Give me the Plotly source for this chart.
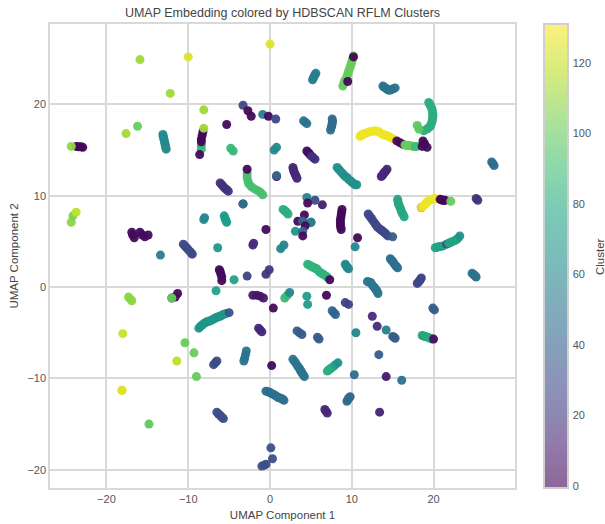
import plotly.graph_objects as go

umap_1 = [
 -15.9, -10.0, 0.0, -12.2, -8.1, -16.2, -17.6,
 -23.7, -23.4, -23.1, -22.9, -24.3,
 -13.1, -13.05, -13.0, -12.95, -12.9, -12.85, -12.8, -12.75, -12.7,
 -8.4, -8.4, -8.2, -8.3, -8.4, -8.4, -8.6, -8.1, -5.3,
 -4.8, -4.5,
 -2.8, -2.8, -2.7, -2.6, -2.3, -2.0, -1.6, -1.2, -0.9, -2.8,
 -6.1, -5.9, -5.7, -5.5, -5.3, -5.1, -3.3, -3.3,
 1.6, 1.75, 1.9, 2.05, 2.2, 2.8, 2.85, 2.9, 3.0, 3.1, 3.2, 3.3, 0.8, 0.8, 0.5, 0.8,
 -3.3, -2.7, -2.3, -0.9, -0.2, 0.7,
 -8.1, -8.0, -5.6, -5.5, -5.4, -5.3,
 -24.3, -24.1, -23.7,
 -16.9, -16.8, -16.6, -15.9, -15.6, -15.3, -14.9,
 -0.5, -2.0, -2.1, 1.3, 1.7, -6.4, -13.4,
 -10.6, -10.4, -10.2, -10.0, -9.8, -9.6, -9.5,
 -6.2, -6.1, -6.0, -5.9, -5.9, -4.4, -6.6, -2.8, -0.5, -0.1,
 -11.6, -11.3, -12.0, -12.0,
 -17.3, -17.1, -16.9,
 -2.1, -1.6, -1.2, -0.8, 0.4,
 1.8, 2.1, 2.4,
 -8.7, -8.5, -8.3, -8.1, -7.9, -7.7, -7.5, -7.3, -7.1, -6.9, -6.7, -6.5, -6.3, -6.1, -5.9, -5.7, -5.4, -5.0,
 -1.4, -1.2, -1.0, 3.3, 3.6, 3.9, -18.0, -10.4, -9.3, -11.4, -9.0,
 -6.9, -6.7, -6.5, -2.9, -3.0, -3.1, -3.2, 0.2,
 2.8, 3.0, 3.2, 3.4, 3.6, 3.7, 3.8, 3.9, 4.05, 4.2,
 -18.1, -18.1,
 -0.5, -0.3, -0.1, 0.1, 0.3, 0.5, 0.7, 0.85, 1.0, 1.2, 1.4, 1.55, 1.7,
 -6.5, -6.3, -6.15, -6.0, -5.85, -5.7, -14.8,
 0.1, 0.3, -1.0, -0.7, -0.5,
 8.9, 9.0, 9.1, 9.25, 9.4, 9.5, 9.6, 9.7, 9.8, 9.9, 10.0, 10.1, 10.2, 10.2, 9.5,
 5.2, 5.3, 5.4, 5.5, 5.6,
 13.8, 13.95, 14.1, 14.25, 14.4, 14.6, 14.8, 15.05, 15.3,
 19.4, 19.5, 19.6, 19.7, 19.8, 19.85, 19.9, 19.9, 19.9, 19.85, 19.8, 19.7, 19.6, 19.4, 19.2, 18.8, 18.0, 18.2,
 11.0, 11.15, 11.3, 11.45, 11.6, 11.9, 12.2, 12.5, 12.8, 13.05, 13.3, 13.55, 13.8, 14.0, 14.2, 14.45, 14.7,
 15.1, 15.5, 15.9, 16.3, 16.5, 16.7, 16.9, 17.1, 17.3, 17.5, 17.75, 18.0,
 18.7, 18.6, 18.9, 19.2,
 4.1, 4.3, 4.5, 7.6, 7.65, 7.6, 7.55, 7.5, 7.4,
 4.5, 4.65, 4.8, 4.95, 5.1, 5.3, 5.5,
 8.2, 8.4, 8.6, 8.8, 9.0, 9.2, 9.4, 9.6, 9.8, 10.0, 10.2, 10.4, 10.6,
 14.3, 14.15, 14.0, 13.9, 13.8, 13.7, 13.6, 27.1, 27.25, 27.4,
 15.6, 15.65, 15.7, 15.8, 15.9, 16.0, 16.1, 16.25, 16.4,
 18.5, 18.5, 18.7, 18.9, 19.1, 19.3, 19.55, 19.8, 20.0, 20.2,
 20.8, 20.95, 21.1, 21.25, 21.4, 22.1, 25.2, 25.4,
 12.0, 12.2, 12.4, 12.6, 12.8, 12.95, 13.1, 13.3, 13.5, 13.65, 13.8, 14.0, 14.2, 14.4, 15.0,
 8.8, 8.75, 8.7, 8.65, 8.6, 8.6, 8.6, 8.65, 8.7, 10.7, 10.4,
 20.2, 20.4, 20.6, 20.85, 21.1, 21.6, 21.85, 22.1, 22.35, 22.6, 22.8, 23.0, 23.2,
 4.5, 5.5, 4.6, 6.4, 4.2, 3.4, 4.0, 5.0, 5.0, 4.3, 3.1, 4.0, 4.0,
 9.2, 9.3, 9.4, 9.5, 9.6,
 4.6, 4.8, 5.0, 5.2, 5.4, 5.55, 5.7, 5.9, 6.1, 6.3, 6.5, 6.75, 7.0, 7.3,
 4.5, 4.6, 6.9, 9.2, 9.6, 7.6, 7.8, 8.0, 12.5, 13.1, 10.5, 13.3, 6.0, 5.8,
 10.3, 7.0, 7.15, 7.3, 7.45, 7.6, 7.8, 8.0, 8.3,
 19.9, 20.1, 18.6, 18.75, 18.9, 19.1, 19.3, 19.55, 19.8, 20.0,
 14.2, 15.0, 15.15, 15.3, 14.2, 16.1,
 9.4, 9.5, 9.6, 9.7, 9.8, 6.7, 6.85, 7.0, 13.4,
 24.7, 24.85, 25.0, 25.1, 25.2, 18.0, 18.15, 18.3, 18.4, 18.5,
 11.9, 12.1, 12.3, 12.45, 12.6, 12.75, 12.9, 13.0, 13.1, 13.2,
 14.7, 14.85, 15.0, 15.15, 15.3, 15.45, 15.6,
]
umap_2 = [
 24.9, 25.2, 26.6, 21.2, 19.4, 17.6, 16.8,
 15.4, 15.35, 15.35, 15.3, 15.4,
 16.7, 16.5, 16.3, 16.1, 15.9, 15.7, 15.5, 15.3, 15.1,
 15.5, 15.1, 17.0, 16.6, 16.2, 15.9, 14.5, 17.4, 17.8,
 15.2, 14.9,
 12.4, 12.0, 11.6, 11.3, 11.0, 10.8, 10.6, 10.4, 10.1, 12.9,
 11.4, 11.2, 11.0, 10.8, 10.65, 10.5, 9.1, 9.1,
 8.5, 8.4, 8.3, 8.15, 8.0, 13.1, 12.9, 12.7, 12.5, 12.3, 12.1, 11.9, 12.1, 12.2, 15.0, 15.3,
 19.9, 19.3, 18.7, 18.9, 18.7, 18.4,
 7.4, 7.6, 7.8, 7.5, 7.3, 7.1,
 7.1, 7.8, 8.2,
 6.0, 5.7, 5.4, 6.0, 5.7, 5.5, 5.7,
 6.3, 4.8, 4.6, 4.2, 4.6, 4.3, 3.5,
 4.7, 4.5, 4.3, 4.1, 3.9, 3.7, 3.6,
 1.9, 1.7, 1.4, 1.1, 0.7, 0.8, -0.4, 1.2, 1.4, 1.9,
 -1.1, -0.7, -1.2, -1.2,
 -1.1, -1.3, -1.5,
 -0.9, -0.9, -1.0, -1.2, -2.3,
 -1.2, -0.9, -0.6,
 -4.5, -4.3, -4.15, -4.0, -3.9, -3.8, -3.75, -3.7, -3.6, -3.5, -3.4, -3.3, -3.25, -3.2, -3.1, -3.0, -2.9, -2.8,
 -4.5, -4.7, -4.9, -4.8, -5.0, -5.2, -5.1, -6.1, -7.2, -8.1, -9.8,
 -8.5, -8.3, -8.1, -7.0, -7.4, -7.8, -8.1, -8.6,
 -7.9, -8.15, -8.4, -8.7, -8.9, -9.1, -9.25, -9.4, -9.6, -9.8,
 -11.3, -11.3,
 -11.4, -11.45, -11.5, -11.6, -11.7, -11.8, -11.9, -12.0, -12.1, -12.15, -12.2, -12.3, -12.4,
 -13.7, -13.9, -14.0, -14.15, -14.3, -14.4, -15.0,
 -17.6, -18.8, -19.6, -19.5, -19.4,
 22.0, 22.25, 22.5, 22.75, 23.0, 23.3, 23.6, 23.85, 24.1, 24.4, 24.7, 25.0, 25.3, 25.2, 22.5,
 22.7, 22.9, 23.1, 23.25, 23.4,
 22.0, 21.9, 21.8, 21.7, 21.6, 21.55, 21.6, 21.7, 21.8,
 20.2, 20.05, 19.9, 19.7, 19.5, 19.25, 19.0, 18.8, 18.6, 18.35, 18.1, 17.85, 17.6, 17.45, 17.3, 17.1, 17.7, 17.3,
 16.5, 16.6, 16.7, 16.75, 16.8, 16.9, 17.0, 17.05, 17.1, 17.05, 17.0, 16.85, 16.7, 16.65, 16.6, 16.5, 16.4,
 16.2, 16.0, 15.8, 15.6, 15.55, 15.5, 15.5, 15.5, 15.45, 15.4, 15.4, 15.4,
 16.0, 15.4, 15.7, 15.3,
 18.2, 18.05, 17.9, 18.4, 18.15, 17.9, 17.7, 17.5, 17.2,
 14.9, 14.75, 14.6, 14.45, 14.3, 14.15, 14.0,
 13.1, 12.9, 12.7, 12.5, 12.3, 12.1, 12.0, 11.8, 11.65, 11.5, 11.35, 11.2, 11.2,
 12.9, 12.7, 12.6, 12.45, 12.3, 12.2, 12.1, 13.7, 13.5, 13.3,
 9.6, 9.35, 9.1, 8.9, 8.7, 8.45, 8.2, 7.95, 7.7,
 8.7, 8.7, 8.85, 9.0, 9.2, 9.4, 9.5, 9.6, 9.65, 9.7,
 9.6, 9.55, 9.5, 9.5, 9.5, 9.4, 9.7, 9.5,
 8.0, 7.75, 7.5, 7.25, 7.0, 6.8, 6.6, 6.45, 6.3, 6.2, 6.1, 5.95, 5.8, 5.6, 5.5,
 8.5, 8.2, 7.9, 7.6, 7.3, 7.05, 6.8, 6.55, 6.3, 5.4, 4.4,
 4.3, 4.35, 4.4, 4.45, 4.5, 4.7, 4.8, 4.9, 5.0, 5.1, 5.2, 5.35, 5.6,
 9.8, 9.5, 9.2, 9.0, 7.9, 7.2, 7.2, 7.1, 7.1, 6.7, 6.1, 6.1, 5.6,
 2.5, 2.35, 2.2, 2.1, 2.0,
 2.5, 2.4, 2.3, 2.2, 2.1, 2.05, 2.0, 1.8, 1.6, 1.5, 1.4, 1.25, 1.1, 0.8,
 -1.0, -1.9, -0.9, -1.7, -1.9, -2.6, -2.8, -3.0, -3.2, -4.3, -5.0, -7.4, -5.7, -5.5,
 -9.6, -9.2, -9.1, -9.0, -8.9, -8.8, -8.65, -8.5, -8.3,
 -2.3, -2.5, -5.3, -5.35, -5.4, -5.45, -5.5, -5.6, -5.7, -5.7,
 -4.7, -5.4, -5.5, -5.6, -9.8, -10.2,
 -12.5, -12.35, -12.2, -12.1, -12.0, -13.4, -13.6, -13.8, -13.7,
 1.5, 1.4, 1.3, 1.2, 1.1, 0.4, 0.55, 0.7, 0.85, 1.0,
 0.6, 0.55, 0.5, 0.3, 0.1, -0.05, -0.2, -0.35, -0.5, -0.7,
 3.1, 2.95, 2.8, 2.6, 2.4, 2.25, 2.1,
]
cluster = (
 [112, 124, 125, 112, 112, 100, 113]
 + [2]*4 + [110]
 + [62]*9
 + [88]*2 + [2]*4 + [2, 112, 3]
 + [88]*2
 + [92]*9 + [2]
 + [18]*6 + [2, 50]
 + [82]*5 + [14]*7 + [2, 45] + [62]*2
 + [28, 2, 2, 58, 2, 28]
 + [62]*2 + [72]*4
 + [108, 105, 118]
 + [3]*7
 + [2, 16, 16, 60, 60, 70, 55]
 + [30]*7
 + [3]*5 + [75, 75, 25, 20, 20]
 + [2, 2, 2, 100]
 + [108]*3
 + [8]*4 + [2]
 + [88, 88, 60]
 + [68]*17 + [33]
 + [14]*3 + [38]*3 + [120, 100, 100, 118, 100]
 + [30]*3 + [50]*4 + [2]
 + [50]*10
 + [124, 124]
 + [48]*13
 + [32]*6 + [98]
 + [32]*5
 + [100]*13 + [2, 2]
 + [55]*5
 + [50]*9
 + [82]*16 + [97, 97]
 + [128]*17
 + [128, 2, 2, 2, 100, 100, 100, 100, 100, 100, 90, 90]
 + [2]*4
 + [50, 50, 50, 46, 46, 46, 46, 46, 46]
 + [5, 5, 5, 5, 18, 18, 18]
 + [65]*13
 + [14]*7 + [45, 45, 45]
 + [78]*9
 + [2, 128, 128, 128, 128, 128, 128, 128, 128, 128]
 + [2, 2, 2, 2, 2, 100, 18, 18]
 + [28]*14 + [38]
 + [2]*9 + [2, 60]
 + [75, 75, 75, 75, 75, 30, 75, 75, 75, 75, 75, 75, 65]
 + [60, 30, 2, 10, 2, 2, 42, 10, 60, 2, 68, 42, 2]
 + [62]*5
 + [85]*13 + [2]
 + [72, 72, 2, 25, 25, 42, 42, 42, 15, 15, 60, 38, 38, 38]
 + [45, 82, 82, 82, 82, 82, 82, 75, 65]
 + [38, 38, 78, 78, 78, 78, 78, 78, 78, 5]
 + [58, 38, 38, 38, 8, 48]
 + [45, 45, 45, 45, 45, 14, 14, 14, 12]
 + [50, 50, 50, 50, 50, 28, 28, 28, 28, 28]
 + [52]*10
 + [48]*7
)
assert len(umap_1) == len(umap_2) == len(cluster), (len(umap_1), len(umap_2), len(cluster))

x_ticks = [-20, -10, 0, 10, 20]
y_ticks = [-20, -10, 0, 10, 20]
bar_ticks = [0, 20, 40, 60, 80, 100, 120]

FONT = "Liberation Sans"
GRID = "#d9d9d9"
TEXT = "#555555"

viridis_soft = [
 [0.0, "rgba(68,1,84,0.6)"], [0.1, "rgba(72,36,117,0.6)"], [0.2, "rgba(65,68,135,0.6)"],
 [0.3, "rgba(53,95,141,0.6)"], [0.4, "rgba(42,120,142,0.6)"], [0.5, "rgba(33,145,140,0.6)"],
 [0.6, "rgba(34,168,132,0.6)"], [0.7, "rgba(68,191,112,0.6)"], [0.8, "rgba(122,209,81,0.6)"],
 [0.9, "rgba(189,223,38,0.6)"], [1.0, "rgba(253,231,37,0.6)"],
]

fig = go.Figure()
fig.add_trace(go.Scatter(
    x=umap_1, y=umap_2, mode="markers", hoverinfo="skip", showlegend=False,
    marker=dict(size=9, color=cluster, colorscale="Viridis", cmin=-0.6, cmax=131,
                opacity=0.95, line=dict(width=0), showscale=False),
))
fig.add_trace(go.Scatter(
    x=umap_1, y=umap_2, mode="markers", hoverinfo="skip", showlegend=False,
    marker=dict(size=1, color=cluster, colorscale=viridis_soft, cmin=-0.6, cmax=131,
                opacity=0, line=dict(width=0), showscale=True,
                colorbar=dict(
                    x=1.0624, xanchor="left", y=0.5, yanchor="middle", len=1, lenmode="fraction",
                    thickness=24, thicknessmode="pixels", xpad=0, ypad=0,
                    outlinecolor="#cfcfcf", outlinewidth=2, borderwidth=0,
                    tickvals=bar_ticks, ticks="outside", ticklen=2, tickwidth=1, tickcolor="rgba(0,0,0,0)",
                    tickfont=dict(family=FONT, size=11, color=TEXT),
                )),
))
axis = dict(showgrid=True, gridcolor=GRID, gridwidth=1.5, zeroline=False, showline=True,
            linecolor=GRID, linewidth=1.5, mirror=True, ticks="",
            tickfont=dict(family=FONT, size=11, color=TEXT))
fig.update_layout(
    width=605, height=524, autosize=False,
    margin=dict(l=50, r=90, t=24, b=36, autoexpand=False),
    paper_bgcolor="white", plot_bgcolor="white",
    title=dict(text="UMAP Embedding colored by HDBSCAN RFLM Clusters",
               x=(282.5 / 605), xanchor="center", y=1 - 13 / 524, yanchor="middle",
               font=dict(family=FONT, size=12.5, color="#444444")),
    xaxis=dict(axis, range=[-26.9, 29.95], tickvals=x_ticks,
               title=dict(text="UMAP Component 1", standoff=7,
                          font=dict(family=FONT, size=11.5, color="#444444"))),
    yaxis=dict(axis, range=[-22.0, 28.8], tickvals=y_ticks,
               title=dict(text="UMAP Component 2", standoff=6,
                          font=dict(family=FONT, size=11.5, color="#444444"))),
    annotations=[dict(text="Cluster", textangle=-90, xref="paper", yref="paper",
                      x=1.183, y=0.498, xanchor="center", yanchor="middle", showarrow=False,
                      font=dict(family=FONT, size=11.5, color="#444444"))],
)
fig.write_html("out.html", config={"displayModeBar": False},
               post_script="document.body.style.margin='0';document.documentElement.style.overflow='hidden';")
